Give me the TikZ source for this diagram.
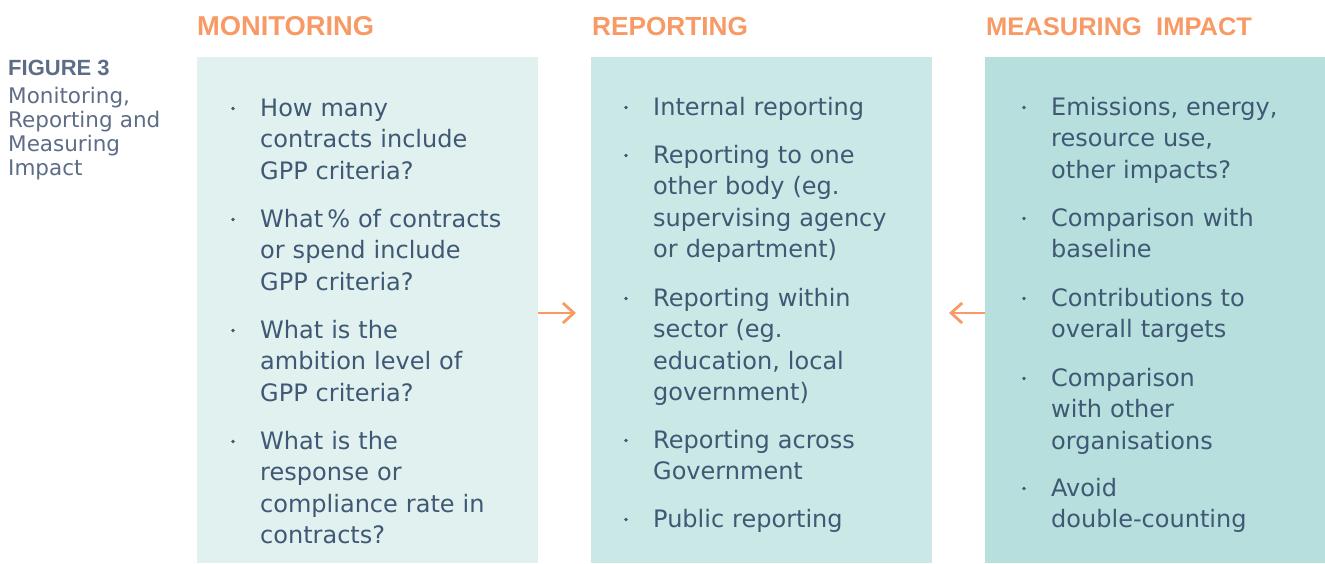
\documentclass[tikz,border=0pt]{standalone}
\usepackage{fontspec}
\setmainfont{DejaVu Sans}
\newfontfamily\headfont{Liberation Sans}
\usetikzlibrary{arrows.meta, positioning}

\definecolor{hdorange}{HTML}{F89A65}
\definecolor{bodyblue}{HTML}{3F5874}
\definecolor{figgray}{HTML}{5D6C87}
\definecolor{colA}{HTML}{E1F1F0}
\definecolor{colB}{HTML}{C9E8E6}
\definecolor{colC}{HTML}{B6DFDD}

\begin{document}
\begin{tikzpicture}[x=1pt, y=-1pt,
      col/.style={fill=#1, minimum width=341pt, minimum height=506pt,
                  anchor=north west, inner sep=0pt},
      head/.style={anchor=base west, inner sep=0pt, text=hdorange,
                   font=\headfont\bfseries\fontsize{#1}{30}\selectfont},
      itm/.style={anchor=base west, inner sep=0pt, text width=270pt, align=left,
                  text=bodyblue, font=\fontsize{24}{31.6}\selectfont},
      dot/.style={circle, fill=bodyblue, minimum size=3.6pt, inner sep=0pt},
      link/.style={-{Straight Barb[length=11pt, width=20pt]}, draw=hdorange, line width=2.8pt}]

    \useasboundingbox (0,0) rectangle (1325,563);

    % Caption
    \node[anchor=base west, inner sep=0pt, text=figgray,
          font=\headfont\bfseries\fontsize{22}{24}\selectfont] (fig) at (8,75) {FIGURE 3};
    \node[anchor=base west, inner sep=0pt, text=figgray, text width=180pt, align=left,
          font=\fontsize{21.5}{24.3}\selectfont] (figtxt) at (8,103)
          {Monitoring,\\Reporting and\\Measuring\\Impact};

    % Columns
    \node[col=colA] (mon) at (197,57)  {};
    \node[col=colB] (rep) at (591,57)  {};
    \node[col=colC] (imp) at (985,57)  {};

    \node[head=27.3] (monhd) at (197,35) {MONITORING};
    \node[head=26.2] (rephd) at (592,35) {REPORTING};
    \node[head=25.5] (imphd) at (986,35) {MEASURING\ \ IMPACT};

    % Item macro: #1=x of bullet, #2=baseline, #3=text
    \newcommand{\bitem}[3]{%
        \node[dot] at (#1, #2-7.5) {};
        \node[itm] at (#1+27, #2) {#3};
    }
    % Monitoring
    \bitem{233}{116}{How many\\contracts include\\GPP criteria?}
    \bitem{233}{227}{What\,\% of contracts\\or spend include\\GPP criteria?}
    \bitem{233}{338}{What is the\\ambition level of\\GPP criteria?}
    \bitem{233}{449}{What is the\\response or\\compliance rate in\\contracts?}
    % Reporting
    \bitem{626}{115}{Internal reporting}
    \bitem{626}{163}{Reporting to one\\other body (eg.\\supervising agency\\or department)}
    \bitem{626}{306}{Reporting within\\sector (eg.\\education, local\\government)}
    \bitem{626}{448}{Reporting across\\Government}
    \bitem{626}{527}{Public reporting}
    % Measuring impact
    \bitem{1024}{115}{Emissions, energy,\\resource use,\\other impacts?}
    \bitem{1024}{226}{Comparison with\\baseline}
    \bitem{1024}{306}{Contributions to\\overall targets}
    \bitem{1024}{386}{Comparison\\with other\\organisations}
    \bitem{1024}{496}{Avoid\\double-counting}

    % Arrows
    \coordinate (monend) at (576,313);
    \coordinate (impend) at (949,313);
    \draw[link] (mon.east |- monend) -- (monend);
    \draw[link] (imp.west |- impend) -- (impend);

\end{tikzpicture}
\end{document}
